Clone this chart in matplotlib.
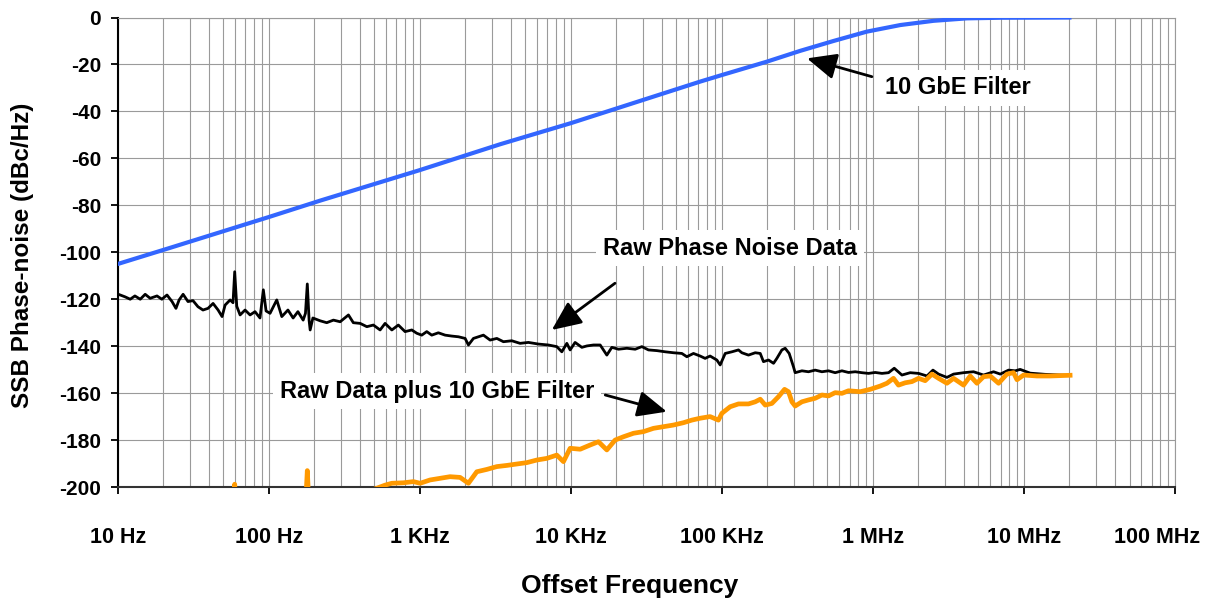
"""
SSB phase noise of a clock source, raw and with the 10 GbE jitter filter applied.
"""
import matplotlib
matplotlib.use('Agg')
import matplotlib.pyplot as plt
from matplotlib.ticker import FixedLocator, NullFormatter
from matplotlib.transforms import ScaledTranslation

# 10 GbE filter response (Hz, dB)
filter_freq = [10, 22, 100, 219, 1000, 3400, 10000, 71800, 100000, 198600,
               330000, 548000, 913000, 1.52e6, 2.52e6, 4.2e6, 7e6, 2.0e7]
filter_db = [-105, -98.2, -85, -78, -65, -54, -45, -27.3, -24.5, -18.8,
             -14.2, -10.0, -6.0, -3.2, -1.4, -0.35, -0.1, 0]

# raw phase noise data (Hz, dBc/Hz)
raw_freq = [10, 11.2, 12.1, 13.0, 14.1, 15.2, 16.4, 18.2, 19.6, 21.2,
            22.9, 24.3, 25.5, 27.1, 29.2, 31.5, 34.0, 36.7, 39.6, 42.8,
            46.2, 49.1, 51.4, 55.5, 58.0, 59.5, 61.4, 64.6, 69.7, 75.2,
            81.1, 87.5, 92.1, 96, 102, 113, 122, 134, 145, 156,
            169, 175, 180, 185, 188, 196, 219, 242, 268, 297,
            337, 363, 403, 446, 493, 546, 589, 653, 721, 799,
            885, 955, 1030, 1112, 1200, 1327, 1471, 1629, 1803, 1996,
            2099, 2265, 2638, 2921, 3237, 3578, 4065, 4613, 5236, 6099,
            7109, 8075, 8714, 9411, 9894, 10670, 11830, 12770, 14120, 15640,
            17310, 18690, 20670, 23490, 26680, 29520, 32660, 37150, 42170, 47780,
            54330, 58620, 64860, 71780, 77450, 83560, 92610, 97440, 105200, 116500,
            128800, 135600, 150000, 166300, 179500, 188500, 203600, 219800, 231200, 249600,
            262500, 279000, 297900, 305600, 338700, 374400, 414600, 459300, 508100, 562500,
            623400, 689300, 763500, 845500, 935200, 1.035e6, 1.148e6, 1.269e6, 1.384e6, 1.556e6,
            1.766e6, 2.005e6, 2.28e6, 2.497e6, 2.719e6, 3.09e6, 3.419e6, 3.982e6, 4.637e6, 5.4e6,
            6.29e6, 6.97e6, 7.91e6, 8.75e6, 9.44e6, 1.1e7, 1.38e7, 1.74e7, 2.02e7]
raw_db = [-117.8, -119, -120, -118.6, -120, -117.9, -119.6, -118.6, -120, -118.2,
          -121, -123.9, -120.3, -117.9, -121, -120.6, -123.2, -124.6, -123.9, -121.8,
          -124.6, -127.4, -122.5, -120.3, -121.5, -108.3, -123, -126.7, -124.6, -126.7,
          -125.3, -128, -116, -125, -126, -120.3, -127.4, -124.6, -128, -125.3,
          -128.9, -126, -113.5, -129, -133.1, -128, -129.2, -130, -128.9, -129.6,
          -126.7, -130, -130.3, -131.7, -131, -133.1, -130.3, -133.1, -131, -133.8,
          -133.1, -134.5, -135.3, -133.8, -135.3, -134.3, -135.3, -135.7, -136, -136.7,
          -139.5, -136.7, -135.3, -137.4, -136.7, -138.1, -137.7, -138.8, -138.4, -139.1,
          -139.5, -140.2, -142.4, -138.8, -141.6, -138.4, -140.5, -139.9, -139.5, -139.5,
          -143.8, -140.5, -141.3, -140.9, -141.3, -140.2, -141.6, -141.9, -142.4, -142.8,
          -143.1, -144.5, -143.1, -144.2, -145.2, -144.2, -145.9, -148, -143.1, -142.4,
          -141.6, -142.8, -143.8, -142.8, -143.1, -146.6, -145.9, -147.3, -145.2, -141.6,
          -140.9, -143.1, -148.8, -151.3, -150.5, -150.9, -150.2, -150.9, -150.5, -151.3,
          -150.5, -151.2, -150.9, -151.3, -151.6, -151.2, -151.6, -151.3, -149.4, -152.3,
          -151.3, -151.6, -152.7, -150.2, -151.9, -153.3, -151.9, -151.3, -150.9, -152.3,
          -150.9, -151.9, -150.2, -150.5, -149.9, -151.5, -152, -152.3, -152.4]

# raw data plus 10 GbE filter (Hz, dBc/Hz)
comb_freq = [10, 20, 40, 58, 59.5, 61, 90, 150, 175, 180,
             185, 300, 450, 589, 653, 778, 907, 1005, 1169, 1361,
             1585, 1848, 2099, 2384, 2778, 3237, 3767, 4386, 5117, 5957,
             6934, 8075, 8933, 9894, 11530, 13430, 15240, 17310, 19640, 22280,
             26000, 30270, 35240, 41030, 47780, 55700, 63240, 71780, 83560, 94850,
             100000, 113500, 128800, 150000, 166300, 179500, 193600, 214300, 237100, 260000,
             276100, 290800, 305600, 338700, 374400, 414600, 459300, 508100, 562500, 623400,
             689300, 824000, 959000, 1.117e6, 1.238e6, 1.368e6, 1.476e6, 1.636e6, 1.811e6, 2.005e6,
             2.218e6, 2.459e6, 2.719e6, 3.09e6, 3.419e6, 3.982e6, 4.406e6, 4.883e6, 5.4e6, 5.98e6,
             6.79e6, 7.71e6, 8.53e6, 8.99e6, 9.94e6, 1.22e7, 1.49e7, 2.02e7]
comb_db = [-223, -219, -216, -213, -198.8, -213, -212, -210, -209, -193,
           -209, -205, -202, -199.2, -198.4, -198.2, -197.7, -198.4, -197, -196.3,
           -195.6, -195.9, -198.4, -193.5, -192.5, -191.3, -190.8, -190.2, -189.6, -188.5,
           -187.8, -186.4, -189.2, -183.5, -183.9, -182.1, -180.7, -184.2, -180, -178.6,
           -177.1, -176.4, -175, -174.3, -173.6, -172.6, -171.5, -170.7, -170, -171.5,
           -168.6, -165.8, -164.6, -164.6, -163.7, -162.6, -165.1, -164.4, -161.5, -158.4,
           -159.4, -163.7, -165.5, -163.7, -162.9, -162.2, -160.8, -161.2, -159.8, -160.1,
           -159, -159.4, -158.4, -157, -155.8, -153.7, -156.6, -155.6, -155.1, -153.7,
           -154.7, -151.9, -153.7, -155.8, -153.7, -156.6, -152.7, -155.8, -153, -152.7,
           -155.8, -151.9, -151.3, -154.3, -152.3, -152.7, -152.7, -152.4]

x_ticks = [10, 100, 1e3, 1e4, 1e5, 1e6, 1e7, 1e8]
x_tick_labels = ['10 Hz', '100 Hz', '1 KHz', '10 KHz', '100 KHz', '1 MHz', '10 MHz', '100 MHz']
y_ticks = list(range(-200, 1, 20))

plt.rcParams['font.family'] = ['Liberation Sans', 'DejaVu Sans']
plt.rcParams['font.weight'] = 'bold'

fig = plt.figure(figsize=(12.06, 6.02), dpi=100)
ax = fig.add_axes([0.0976, 0.191, 0.8767, 0.7799])

ax.plot(filter_freq, filter_db, color='#3366ff', lw=3.0, zorder=3)
ax.plot(raw_freq, raw_db, color='black', lw=2.0, zorder=4)
ax.plot(comb_freq, comb_db, color='#ff9900', lw=3.4, zorder=5)

ax.set_xscale('log')
ax.set_xlim(10, 1e8)
ax.set_ylim(-200, 0)

ax.xaxis.set_major_locator(FixedLocator(x_ticks))
ax.xaxis.set_major_formatter(plt.FixedFormatter(x_tick_labels))
minor = [m * 10 ** e for e in range(1, 8) for m in range(2, 10)]
ax.xaxis.set_minor_locator(FixedLocator(minor))
ax.xaxis.set_minor_formatter(NullFormatter())
ax.set_yticks(y_ticks)
ax.set_yticklabels([str(v) for v in y_ticks])

ax.grid(True, which='both', color='#9a9a9a', lw=0.8, zorder=0)
ax.set_axisbelow(True)
ax.tick_params(axis='x', which='major', direction='out', length=5, width=1.3,
               pad=24, labelsize=15.5)
ax.tick_params(axis='x', which='minor', length=0)
ax.tick_params(axis='y', direction='out', length=5, width=1.3, pad=7, labelsize=15)
for lab in ax.get_xticklabels() + ax.get_yticklabels():
    lab.set_fontweight('bold')
# last label is pulled in so it stays inside the figure
last = ax.get_xticklabels()[-1]
last.set_transform(last.get_transform() + ScaledTranslation(-0.18, 0, fig.dpi_scale_trans))

ax.spines['left'].set_color('black')
ax.spines['left'].set_linewidth(1.5)
ax.spines['bottom'].set_color('#333333')
ax.spines['bottom'].set_linewidth(1.5)
for s in ('top', 'right'):
    ax.spines[s].set_color('#9a9a9a')
    ax.spines[s].set_linewidth(0.8)

fig.text(0.522, 0.027, 'Offset Frequency', ha='center', va='center',
         fontsize=19, fontweight='bold')
fig.text(0.019, 0.576, 'SSB Phase-noise (dBc/Hz)', ha='center', va='center',
         rotation=90, fontsize=17.5, fontweight='bold')

# callouts
box = dict(facecolor='white', edgecolor='none', pad=5)
arrow = dict(arrowstyle='-|>,head_length=0.9,head_width=0.4', color='black',
             lw=2.0, mutation_scale=20, shrinkA=0, shrinkB=0)

ax.text(3.67e6, -30, '10 GbE Filter', ha='center', va='center', fontsize=17,
        fontweight='bold', bbox=box, zorder=6)
ax.annotate('', xy=(3.66e5, -17.4), xytext=(9.84e5, -25.2), arrowprops=arrow, zorder=7)

ax.text(1.135e5, -98.2, 'Raw Phase Noise Data', ha='center', va='center', fontsize=17,
        fontweight='bold', bbox=box, zorder=6)
ax.annotate('', xy=(7480, -133.1), xytext=(19600, -113.2), arrowprops=arrow, zorder=7)

ax.text(1303, -159.1, 'Raw Data plus 10 GbE Filter', ha='center', va='center',
        fontsize=17, fontweight='bold', bbox=box, zorder=6)
ax.annotate('', xy=(43200, -167.9), xytext=(16900, -160.8), arrowprops=arrow, zorder=7)

fig.savefig('out.png', dpi=100)
